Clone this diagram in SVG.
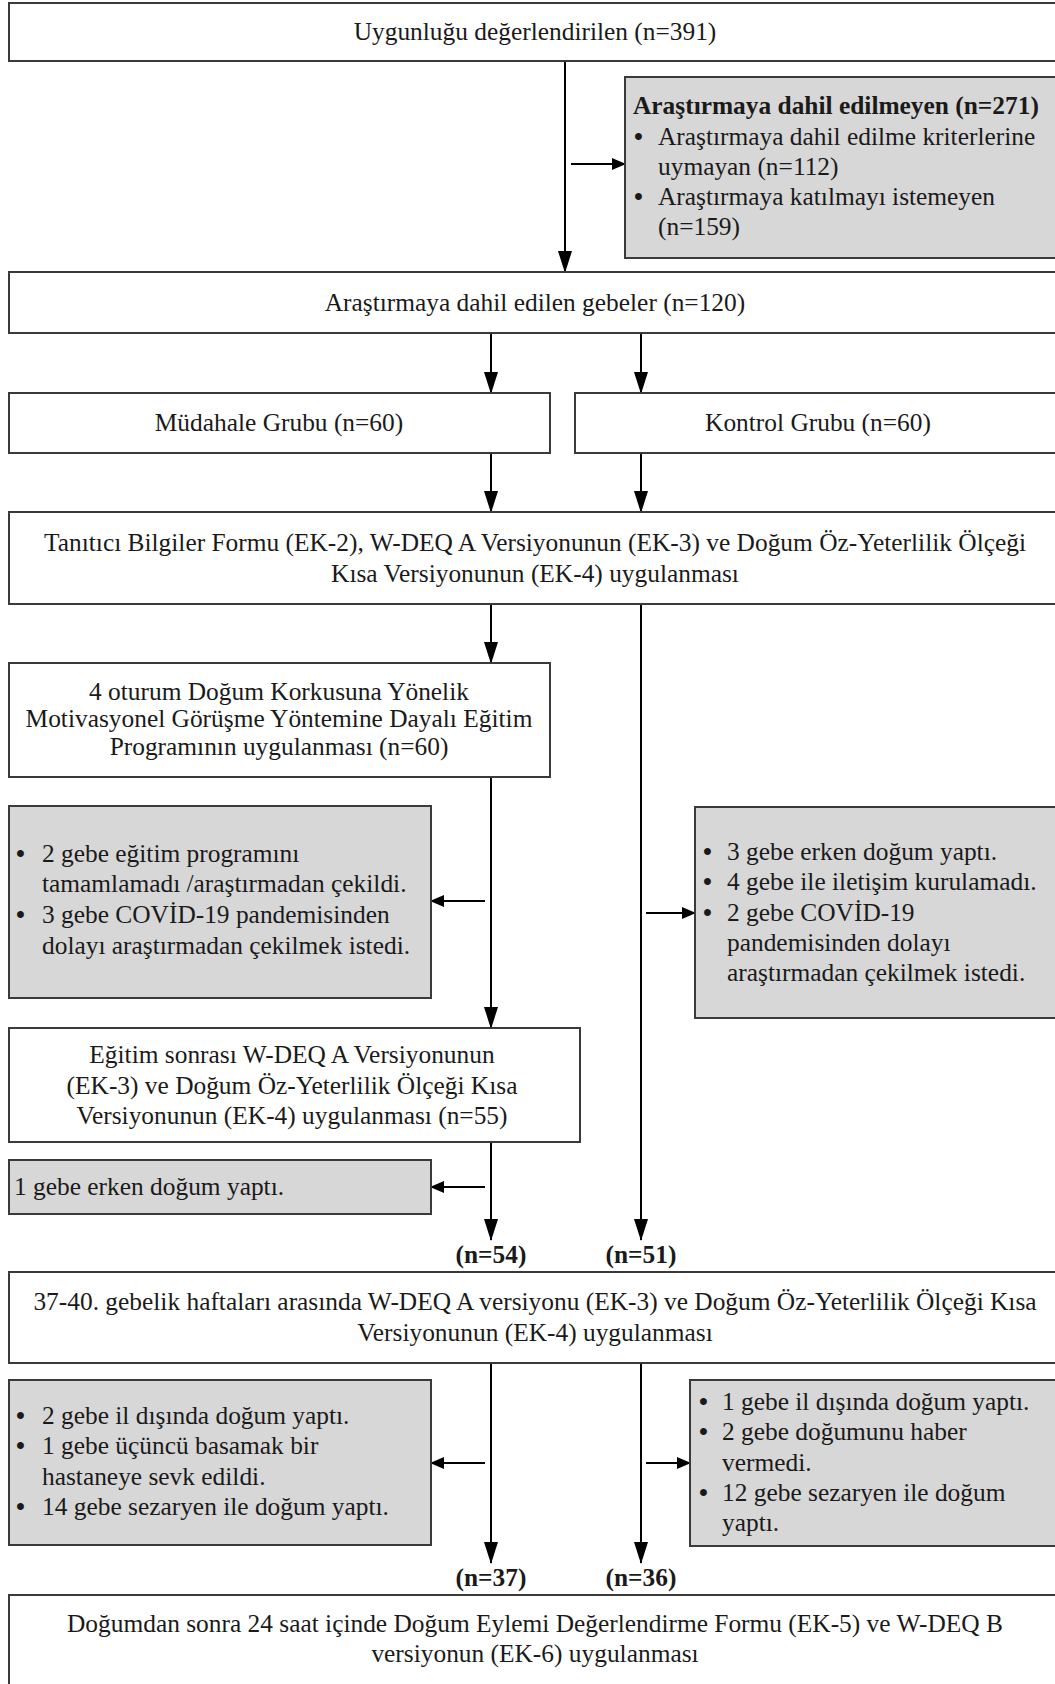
<svg xmlns="http://www.w3.org/2000/svg" width="1055" height="1684" viewBox="0 0 1055 1684">
<style>
text{font-family:"Liberation Serif","Times New Roman",serif;font-size:25.4px;fill:#1a1a1a}
.c{text-anchor:middle}
.b{font-weight:bold}
.bl{font-weight:bold}
.box{fill:#ffffff;stroke:#3a3a3a;stroke-width:2}
.gbox{fill:#d7d7d7;stroke:#3a3a3a;stroke-width:2}
.ln{stroke:#000;stroke-width:2;fill:none}
</style>
<defs>
<marker id="av" markerUnits="userSpaceOnUse" markerWidth="22" markerHeight="14" refX="21" refY="7" orient="auto" viewBox="0 0 22 14">
<path d="M0,0 L22,7 L0,14 Z" fill="#000"/>
</marker>
<marker id="ah" markerUnits="userSpaceOnUse" markerWidth="14" markerHeight="12" refX="13" refY="6" orient="auto" viewBox="0 0 14 12">
<path d="M0,0 L14,6 L0,12 Z" fill="#000"/>
</marker>
</defs>
<rect width="1055" height="1684" fill="#ffffff"/>

<g id="connectors">
<line class="ln" x1="565" y1="62" x2="565" y2="272" marker-end="url(#av)"/>
<line class="ln" x1="571" y1="164" x2="625" y2="164" marker-end="url(#ah)"/>
<line class="ln" x1="491" y1="333" x2="491" y2="393" marker-end="url(#av)"/>
<line class="ln" x1="641" y1="333" x2="641" y2="393" marker-end="url(#av)"/>
<line class="ln" x1="491" y1="453" x2="491" y2="512" marker-end="url(#av)"/>
<line class="ln" x1="641" y1="453" x2="641" y2="512" marker-end="url(#av)"/>
<line class="ln" x1="491" y1="604" x2="491" y2="663" marker-end="url(#av)"/>
<line class="ln" x1="491" y1="777" x2="491" y2="1028" marker-end="url(#av)"/>
<line class="ln" x1="485" y1="901" x2="431" y2="901" marker-end="url(#ah)"/>
<line class="ln" x1="641" y1="604" x2="641" y2="1240" marker-end="url(#av)"/>
<line class="ln" x1="646" y1="913" x2="695" y2="913" marker-end="url(#ah)"/>
<line class="ln" x1="491" y1="1142" x2="491" y2="1240" marker-end="url(#av)"/>
<line class="ln" x1="485" y1="1187" x2="431" y2="1187" marker-end="url(#ah)"/>
<line class="ln" x1="491" y1="1363" x2="491" y2="1563" marker-end="url(#av)"/>
<line class="ln" x1="641" y1="1363" x2="641" y2="1563" marker-end="url(#av)"/>
<line class="ln" x1="485" y1="1463" x2="431" y2="1463" marker-end="url(#ah)"/>
<line class="ln" x1="646" y1="1463" x2="690" y2="1463" marker-end="url(#ah)"/>
</g>

<g id="n-uygunlugu">
<rect class="box" x="9" y="3" width="1060" height="58"/>
<text class="c" x="535" y="40">Uygunluğu değerlendirilen (n=391)</text>
</g>

<g id="n-dahil-edilmeyen">
<rect class="gbox" x="625" y="77" width="440" height="181"/>
<text class="b" x="633" y="114">Araştırmaya dahil edilmeyen (n=271)</text>
<text x="634" y="145"><tspan class="bl">•</tspan><tspan x="658">Araştırmaya dahil edilme kriterlerine</tspan></text>
<text x="658" y="175">uymayan (n=112)</text>
<text x="634" y="205"><tspan class="bl">•</tspan><tspan x="658">Araştırmaya katılmayı istemeyen</tspan></text>
<text x="658" y="235">(n=159)</text>
</g>

<g id="n-dahil-edilen">
<rect class="box" x="9" y="272" width="1060" height="61"/>
<text class="c" x="535" y="311">Araştırmaya dahil edilen gebeler (n=120)</text>
</g>

<g id="n-mudahale">
<rect class="box" x="9" y="393" width="541" height="60"/>
<text class="c" x="279" y="431">Müdahale Grubu (n=60)</text>
</g>

<g id="n-kontrol">
<rect class="box" x="575" y="393" width="490" height="60"/>
<text class="c" x="818" y="431">Kontrol Grubu (n=60)</text>
</g>

<g id="n-tanitici">
<rect class="box" x="9" y="512" width="1060" height="92"/>
<text class="c" x="535" y="551">Tanıtıcı Bilgiler Formu (EK-2), W-DEQ A Versiyonunun (EK-3) ve Doğum Öz-Yeterlilik Ölçeği</text>
<text class="c" x="535" y="582">Kısa Versiyonunun (EK-4) uygulanması</text>
</g>

<g id="n-egitim">
<rect class="box" x="9" y="663" width="541" height="114"/>
<text class="c" x="279" y="700">4 oturum Doğum Korkusuna Yönelik</text>
<text class="c" x="279" y="727">Motivasyonel Görüşme Yöntemine Dayalı Eğitim</text>
<text class="c" x="279" y="755">Programının uygulanması (n=60)</text>
</g>

<g id="n-cikan-mudahale-1">
<rect class="gbox" x="9" y="806" width="422" height="192"/>
<text x="16" y="862"><tspan class="bl">•</tspan><tspan x="42">2 gebe eğitim programını</tspan></text>
<text x="42" y="892">tamamlamadı /araştırmadan çekildi.</text>
<text x="16" y="923"><tspan class="bl">•</tspan><tspan x="42">3 gebe COVİD-19 pandemisinden</tspan></text>
<text x="42" y="954">dolayı araştırmadan çekilmek istedi.</text>
</g>

<g id="n-cikan-kontrol-1">
<rect class="gbox" x="695" y="807" width="370" height="211"/>
<text x="703" y="860"><tspan class="bl">•</tspan><tspan x="727">3 gebe erken doğum yaptı.</tspan></text>
<text x="703" y="890"><tspan class="bl">•</tspan><tspan x="727">4 gebe ile iletişim kurulamadı.</tspan></text>
<text x="703" y="921"><tspan class="bl">•</tspan><tspan x="727">2 gebe COVİD-19</tspan></text>
<text x="727" y="951">pandemisinden dolayı</text>
<text x="727" y="981">araştırmadan çekilmek istedi.</text>
</g>

<g id="n-egitim-sonrasi">
<rect class="box" x="9" y="1028" width="571" height="114"/>
<text class="c" x="292" y="1063">Eğitim sonrası W-DEQ A Versiyonunun</text>
<text class="c" x="292" y="1094">(EK-3) ve Doğum Öz-Yeterlilik Ölçeği Kısa</text>
<text class="c" x="292" y="1124">Versiyonunun (EK-4) uygulanması (n=55)</text>
</g>

<g id="n-cikan-mudahale-2">
<rect class="gbox" x="9" y="1160" width="422" height="54"/>
<text x="14" y="1195">1 gebe erken doğum yaptı.</text>
</g>

<g id="n-label-54"><text class="c b" x="491" y="1263">(n=54)</text></g>
<g id="n-label-51"><text class="c b" x="641" y="1263">(n=51)</text></g>

<g id="n-37-40">
<rect class="box" x="9" y="1272" width="1060" height="91"/>
<text class="c" x="535" y="1310">37-40. gebelik haftaları arasında W-DEQ A versiyonu (EK-3) ve Doğum Öz-Yeterlilik Ölçeği Kısa</text>
<text class="c" x="535" y="1341">Versiyonunun (EK-4) uygulanması</text>
</g>

<g id="n-cikan-mudahale-3">
<rect class="gbox" x="9" y="1380" width="422" height="165"/>
<text x="16" y="1424"><tspan class="bl">•</tspan><tspan x="42">2 gebe il dışında doğum yaptı.</tspan></text>
<text x="16" y="1454"><tspan class="bl">•</tspan><tspan x="42">1 gebe üçüncü basamak bir</tspan></text>
<text x="42" y="1485">hastaneye sevk edildi.</text>
<text x="16" y="1515"><tspan class="bl">•</tspan><tspan x="42">14 gebe sezaryen ile doğum yaptı.</tspan></text>
</g>

<g id="n-cikan-kontrol-3">
<rect class="gbox" x="690" y="1380" width="375" height="166"/>
<text x="699" y="1410"><tspan class="bl">•</tspan><tspan x="722">1 gebe il dışında doğum yaptı.</tspan></text>
<text x="699" y="1440"><tspan class="bl">•</tspan><tspan x="722">2 gebe doğumunu haber</tspan></text>
<text x="722" y="1471">vermedi.</text>
<text x="699" y="1501"><tspan class="bl">•</tspan><tspan x="722">12 gebe sezaryen ile doğum</tspan></text>
<text x="722" y="1531">yaptı.</text>
</g>

<g id="n-label-37"><text class="c b" x="491" y="1586">(n=37)</text></g>
<g id="n-label-36"><text class="c b" x="641" y="1586">(n=36)</text></g>

<g id="n-dogumdan-sonra">
<rect class="box" x="9" y="1595" width="1060" height="100"/>
<text class="c" x="535" y="1632">Doğumdan sonra 24 saat içinde Doğum Eylemi Değerlendirme Formu (EK-5) ve W-DEQ B</text>
<text class="c" x="535" y="1662">versiyonun (EK-6) uygulanması</text>
</g>
</svg>
